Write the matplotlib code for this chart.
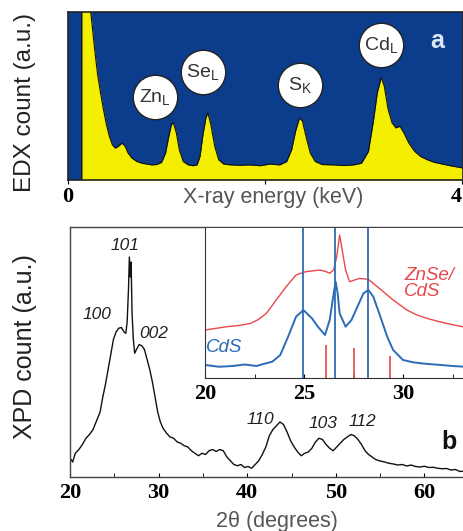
import numpy as np
import matplotlib
matplotlib.use('Agg')
import matplotlib.pyplot as plt
from matplotlib.ticker import FixedLocator

plt.rcParams['font.family'] = 'Liberation Sans'
plt.rcParams['mathtext.default'] = 'regular'

#%% Data

# EDX spectrum (keV, counts a.u.)
edx_e = [0.14, 0.14, 0.20, 0.24, 0.27, 0.30, 0.33, 0.36, 0.39, 0.42, 0.45, 0.48, 0.51,
         0.55, 0.58, 0.61, 0.65, 0.70, 0.75, 0.80, 0.85, 0.90, 0.95, 0.99, 1.02, 1.05,
         1.07, 1.10, 1.13, 1.17, 1.22, 1.27, 1.31, 1.34, 1.37, 1.40, 1.42, 1.45, 1.49,
         1.53, 1.58, 1.65, 1.75, 1.85, 1.95, 2.05, 2.15, 2.22, 2.27, 2.31, 2.35, 2.38,
         2.42, 2.46, 2.51, 2.58, 2.70, 2.80, 2.90, 2.98, 3.05, 3.10, 3.14, 3.18, 3.21,
         3.25, 3.29, 3.33, 3.37, 3.41, 3.46, 3.52, 3.58, 3.65, 3.72, 3.80, 3.88, 3.95, 4.02]
edx_c = [0, 120, 115, 95, 78, 63, 52, 42, 33, 26, 21, 19, 20,
         22, 20, 16, 13, 11, 10, 9.5, 9, 9.2, 10.5, 16, 25, 33,
         34, 28, 18, 11, 9, 8.5, 9, 14, 27, 37, 40, 33, 20,
         12, 9.5, 9, 8.8, 9, 8.5, 9.5, 9, 11, 18, 29, 37, 35,
         25, 16, 11, 9.2, 9, 8.6, 9, 10, 17, 35, 52, 61, 56,
         42, 34, 31, 32, 28, 22, 17, 14, 12, 10.5, 9.5, 8.5, 7.8, 7]

edx_peaks = ['Zn', 'Se', 'S', 'Cd']
edx_sub = ['L', 'L', 'K', 'L']

# XPD pattern (2theta, counts a.u.)
xpd_2t = [20.0, 20.3, 20.6, 21.0, 21.4, 21.8, 22.2, 22.6, 23.0, 23.4, 23.7, 24.0, 24.3,
          24.6, 24.9, 25.2, 25.5, 25.8, 26.1, 26.3, 26.45, 26.6, 26.7, 26.8, 26.9, 27.0,
          27.15, 27.3, 27.5, 27.8, 28.1, 28.4, 28.7, 29.0, 29.3, 29.6, 29.9, 30.2, 30.5,
          30.9, 31.3, 31.7, 32.1, 32.5, 32.9, 33.3, 33.7, 34.1, 34.5, 34.9, 35.3, 35.7,
          36.1, 36.5, 36.9, 37.3, 37.7, 38.1, 38.5, 38.9, 39.3, 39.7, 40.1, 40.5, 40.9,
          41.3, 41.7, 42.1, 42.5, 42.9, 43.3, 43.7, 44.1, 44.5, 44.9, 45.3, 45.7, 46.1,
          46.5, 46.9, 47.3, 47.7, 48.1, 48.5, 48.9, 49.3, 49.7, 50.1, 50.5, 50.9, 51.3,
          51.7, 52.1, 52.5, 52.9, 53.3, 53.7, 54.1, 54.5, 54.9, 55.5, 56.0, 56.5, 57.0,
          57.5, 58.0, 58.5, 59.0, 59.5, 60.0, 60.5, 61.0, 61.5, 62.0, 62.5, 63.0, 63.5,
          64.0, 64.5, 65.0]
xpd_c = [7.6, 6.0, 9.5, 11, 13, 15.5, 17, 19, 22.5, 26, 32, 37, 43,
         49, 55, 58, 59.5, 59.8, 58, 57.5, 62, 75, 88, 80, 86, 66,
         55, 49.5, 51, 53, 52.5, 51, 47, 43, 38, 32, 26, 22, 19.5,
         17.5, 16, 15.5, 14, 13.5, 12.5, 12, 10.5, 9.5, 8.5, 9.5, 9.0, 10.5,
         11, 10.2, 11, 10.5, 8, 6.5, 5, 4.5, 5, 3.8, 4.2, 3.5, 5,
         6.5, 9, 12, 16.5, 19, 20.5, 22, 21, 18, 14.5, 12, 10, 8.5,
         9.5, 10, 11.5, 14, 15.5, 15, 13, 11.5, 10.5, 12, 13.5, 15, 16,
         17, 16.5, 15, 13, 10.5, 9, 8, 7, 6.5, 6, 5.5, 5.2, 4.8,
         5, 4.4, 4.8, 4.2, 4, 4.3, 3.8, 3.9, 3.5, 3.3, 3.4, 2.8, 3.0,
         2.2, 2.4, 2.0]

hkl_labels = ['100', '101', '002', '110', '103', '112']

# inset: CdS and ZnSe/CdS
cds_2t = [20.0, 20.7, 21.4, 22.0, 22.6, 23.0, 23.4, 23.8, 24.2, 24.6, 24.97, 25.4, 25.7,
          26.06, 26.3, 26.5, 26.6, 26.7, 26.8, 27.1, 27.4, 27.7, 28.0, 28.25, 28.5, 28.8,
          29.2, 29.5, 30.0, 30.5, 30.9, 31.4, 31.9, 32.5, 33.0, 34.0, 35.0]
cds_c = [8.7, 7.5, 8, 9, 8, 9.5, 10.9, 15.3, 27.6, 40.9, 45.3, 39.8, 34.2,
         28.7, 38.7, 56.4, 64.2, 56.4, 43.1, 34.2, 38.7, 47.6, 56.4, 58.7, 54.2, 43.1,
         27.6, 18.7, 12, 10.5, 9.8, 9.2, 8.7, 8.0, 7.6, 7.2, 7.0]

znse_2t = [20.0, 20.5, 21.1, 21.7, 22.3, 22.7, 23.1, 23.6, 24.1, 24.6, 25.1, 25.5, 25.8,
           26.1, 26.3, 26.5, 26.65, 26.8, 26.9, 27.1, 27.3, 27.8, 28.25, 28.8, 29.5, 30.2,
           30.7, 31.2, 31.7, 32.2, 33.0, 34.0, 35.0]
znse_c = [32, 33, 34.2, 35, 36.4, 39, 43.1, 52, 60.9, 68.7, 70.9, 71.5, 72,
          71, 69.8, 72, 80.9, 95.3, 87.6, 72, 64.2, 66.4, 65.8, 59.8, 52, 45.3,
          42, 39.8, 38, 36.4, 34.2, 33, 32.5]

cds_ref = [24.97, 26.55, 28.25]     # CdS reflections
znse_ref = [26.1, 27.5, 29.35]      # ZnSe reflections
znse_h = [22, 20, 15]

#%% Plot

fig = plt.figure(figsize=(4.63, 5.31), dpi=100)

tick_font = dict(family='Liberation Serif', weight='bold', size=16)
gray = '#555555'

# ---- EDX panel
ax1 = fig.add_axes([68/463, 1-180/531, 395/463, 168/531])
ax1.set_facecolor('#0c3c8c')
ax1.fill_between(edx_e, edx_c, 0, color='#f4ee00', lw=0)
ax1.plot(edx_e, edx_c, color='#111111', lw=0.8)
ax1.set_xlim(0, 4.01)
ax1.set_ylim(0, 100)
ax1.set_yticks([])
ax1.xaxis.set_major_locator(FixedLocator([0, 2, 4]))
ax1.set_xticklabels(['0', '', '4'], fontdict=tick_font)
ax1.get_xticklabels()[-1].set_horizontalalignment('right')
ax1.tick_params(axis='x', direction='out', length=3, pad=2)
for s in ax1.spines.values():
    s.set_color('#222222')
    s.set_linewidth(1.2)

circ_e = [0.88, 1.37, 2.36, 3.18]
circ_c = [49.4, 64.3, 56.5, 80.4]
ax1.plot(circ_e, circ_c, 'o', ms=32, mfc='white', mec='#222222', mew=1)
for e, c, el, sub in zip(circ_e, circ_c, edx_peaks, edx_sub):
    ax1.text(e, c, el + '$_{' + sub + '}$', ha='center', va='center',
             fontsize=14, color='#333333')
ax1.text(3.75, 83, 'a', color='#dde8f5', fontsize=18, weight='bold',
         ha='center', va='center')

fig.text(273/463, 1-198/531, 'X-ray energy (keV)', ha='center', va='center',
         fontsize=15.5, color=gray)
fig.text(25/463, 1-102/531, 'EDX count (a.u.)', ha='center', va='center',
         fontsize=17.5, color='#222222', rotation=90)

# ---- XPD panel
ax2 = fig.add_axes([70/463, 1-477/531, 443/463, 250/531])
ax2.plot(xpd_2t, xpd_c, color='#111111', lw=1)
ax2.set_xlim(20, 70)
ax2.set_ylim(0, 100)
ax2.set_yticks([])
ax2.xaxis.set_major_locator(FixedLocator([20, 30, 40, 50, 60, 70]))
ax2.xaxis.set_minor_locator(FixedLocator([25, 35, 45, 55, 65]))
ax2.set_xticklabels(['20', '30', '40', '50', '60', ''], fontdict=tick_font)
ax2.tick_params(axis='x', which='both', direction='in', length=3, pad=4)
for s in ax2.spines.values():
    s.set_color('#444444')
    s.set_linewidth(1)

hkl_x = [23.0, 26.2, 29.4, 41.5, 48.5, 53.0]
hkl_y = [65, 92.5, 57.5, 22.8, 21.6, 22]
for lx, ly, t in zip(hkl_x, hkl_y, hkl_labels):
    ax2.text(lx, ly, t, ha='center', va='center', fontsize=12.5,
             style='italic', color='#222222')
ax2.text(62.8, 14, 'b', fontsize=18, weight='bold', ha='center', va='center',
         color='#111111')

fig.text(277/463, 1-522/531, '2\u03b8 (degrees)', ha='center', va='center',
         fontsize=15.5, color=gray)
fig.text(25/463, 1-347/531, 'XPD count (a.u.)', ha='center', va='center',
         fontsize=18, color='#222222', rotation=90)

# ---- inset
ax3 = fig.add_axes([205/463, 1-378/531, 297/463, 150/531])
ax3.plot(znse_2t, znse_c, color='#e8484c', lw=1)
ax3.plot(cds_2t, cds_c, color='#2a6cb5', lw=1.4)
for xr in cds_ref:
    ax3.axvline(xr, color='#2f6db3', lw=1.3)
ax3.vlines(znse_ref, 0, znse_h, color='#e04848', lw=1.2)
ax3.set_xlim(20, 35)
ax3.set_ylim(0, 100)
ax3.set_yticks([])
ax3.xaxis.set_major_locator(FixedLocator([20, 25, 30, 35]))
ax3.xaxis.set_minor_locator(FixedLocator([22.5, 27.5, 32.5]))
ax3.set_xticklabels(['20', '25', '30', ''], fontdict=tick_font)
ax3.tick_params(axis='x', which='both', direction='in', length=3, pad=4)
ax3.spines['top'].set_visible(False)
ax3.spines['right'].set_visible(False)
for s in ['left', 'bottom']:
    ax3.spines[s].set_color('#333333')
ax3.text(30.05, 63, 'ZnSe/\nCdS', color='#e8484c', fontsize=13.5, style='italic',
         ha='left', va='center', linespacing=1.0)
ax3.text(20.05, 20, 'CdS', color='#2a6cb5', fontsize=13.5, style='italic',
         ha='left', va='center')

plt.savefig('out.png', dpi=100)
